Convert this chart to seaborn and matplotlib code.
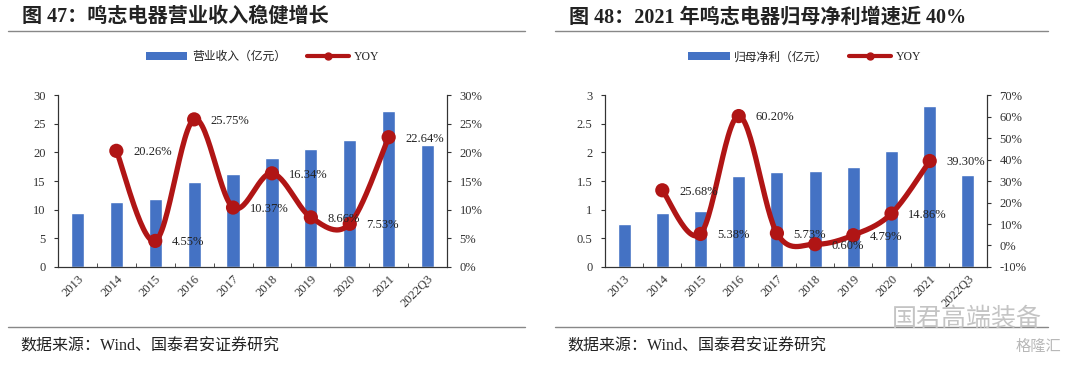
import numpy as np
import pandas as pd
import seaborn as sns
import matplotlib.pyplot as plt
from matplotlib.lines import Line2D
from matplotlib.patches import Patch
from matplotlib.ticker import FuncFormatter, FixedLocator

years = ['2013', '2014', '2015', '2016', '2017', '2018', '2019', '2020', '2021', '2022Q3']

revenue = [9.4, 11.3, 11.8, 14.8, 16.3, 19.0, 20.6, 22.2, 27.2, 21.2]
revenue_yoy = [None, 20.26, 4.55, 25.75, 10.37, 16.34, 8.66, 7.53, 22.64, None]

profit = [0.75, 0.94, 0.98, 1.58, 1.66, 1.67, 1.75, 2.02, 2.80, 1.60]
profit_yoy = [None, 25.68, 5.38, 60.20, 5.73, 0.60, 4.79, 14.86, 39.30, None]

sns.set_style('ticks')
plt.rcParams['font.family'] = ['Liberation Serif', 'Noto Sans CJK SC', 'DejaVu Sans']
plt.rcParams['axes.edgecolor'] = '#333333'
plt.rcParams['text.color'] = '#222222'
plt.rcParams['xtick.color'] = '#333333'
plt.rcParams['ytick.color'] = '#333333'

BLUE = '#4472C4'
RED = '#B01515'


def smooth(xs, ys, n=30):
    # excel-like smoothed line (catmull-rom as bezier)
    pts = np.column_stack([xs, ys]).astype(float)
    p = np.vstack([pts[0], pts, pts[-1]])
    out = []
    t = np.linspace(0, 1, n)[:, None]
    for i in range(1, len(p) - 2):
        p0, p1, p2, p3 = p[i - 1], p[i], p[i + 1], p[i + 2]
        c1 = p1 + (p2 - p0) / 6
        c2 = p2 - (p3 - p1) / 6
        seg = (1 - t) ** 3 * p1 + 3 * (1 - t) ** 2 * t * c1 + 3 * (1 - t) * t ** 2 * c2 + t ** 3 * p2
        out.append(seg)
    out = np.vstack(out)
    return out[:, 0], out[:, 1]


def draw(fig, rect, bars, yoy, ylim, yticks, ylim2, yticks2, title, bar_name, left, right, legend_x):
    ax = fig.add_axes(rect)
    df = pd.DataFrame({'year': years, 'val': bars})
    sns.barplot(data=df, x='year', y='val', color=BLUE, width=0.34, saturation=1, ax=ax)
    ax.set_xlim(-0.5, len(years) - 0.5)
    ax.set_ylim(*ylim)
    ax.set_yticks(yticks)
    ax.yaxis.set_major_formatter(FuncFormatter(lambda v, p: '{:g}'.format(v)))
    ax.set_xlabel('')
    ax.set_ylabel('')
    ax.tick_params(axis='x', length=0, labelsize=9, pad=4)
    ax.xaxis.set_minor_locator(FixedLocator(np.arange(0.5, len(years) - 1, 1)))
    ax.tick_params(axis='x', which='minor', direction='in', length=3, color='#333333')
    ax.tick_params(axis='y', length=3, labelsize=9, pad=6)
    for lab in ax.get_xticklabels():
        lab.set_rotation(45)
        lab.set_ha('right')
        lab.set_rotation_mode('anchor')
    ax.spines['top'].set_visible(False)

    ax2 = ax.twinx()
    idx = [i for i, v in enumerate(yoy) if v is not None]
    vals = [yoy[i] for i in idx]
    sx, sy = smooth(idx, vals)
    ax2.plot(sx, sy, color=RED, lw=3.8, solid_capstyle='round', zorder=3)
    sns.scatterplot(x=idx, y=vals, color=RED, s=105, edgecolor='none', ax=ax2, zorder=4)
    for i, v in zip(idx, vals):
        ax2.annotate('{:.2f}%'.format(v), (i, v), xytext=(12, -1), textcoords='offset points',
                     ha='left', va='center', fontsize=9, color='#222222', zorder=5)
    ax2.set_ylim(*ylim2)
    ax2.set_yticks(yticks2)
    ax2.yaxis.set_major_formatter(FuncFormatter(lambda v, p: '{:.0f}%'.format(v)))
    ax2.tick_params(axis='y', length=3, labelsize=9, pad=6)
    ax2.spines['top'].set_visible(False)
    ax2.set_xlim(-0.5, len(years) - 0.5)

    # title, rules, source
    fig.text(left + 0.013, 0.953, title, fontsize=14.5, fontweight='bold', ha='left', va='center')
    fig.add_artist(Line2D([left, right], [0.915, 0.915], color='#888888', lw=1))
    fig.add_artist(Line2D([left, right], [0.104, 0.104], color='#888888', lw=1))
    fig.text(left + 0.011, 0.052, '数据来源：Wind、国泰君安证券研究', fontsize=11.5, ha='left', va='center')

    handles = [Patch(facecolor=BLUE, edgecolor='none'),
               Line2D([], [], color=RED, lw=3, marker='o', markersize=5)]
    fig.legend(handles, [bar_name, 'YOY'], loc='center', bbox_to_anchor=(legend_x, 0.843),
               ncol=2, frameon=False, fontsize=8.5, handlelength=3.5, handleheight=0.6,
               columnspacing=1.8, handletextpad=0.4)


fig = plt.figure(figsize=(10.8, 3.65), dpi=100)

draw(fig, [0.0537, 0.2685, 0.3602, 0.4712], revenue, revenue_yoy,
     (0, 30), [0, 5, 10, 15, 20, 25, 30], (0, 30), [0, 5, 10, 15, 20, 25, 30],
     '图 47：鸣志电器营业收入稳健增长', '营业收入（亿元）', 0.0074, 0.486, 0.243)

draw(fig, [0.5602, 0.2685, 0.3537, 0.4712], profit, profit_yoy,
     (0, 3), [0, 0.5, 1, 1.5, 2, 2.5, 3], (-10, 70), [-10, 0, 10, 20, 30, 40, 50, 60, 70],
     '图 48：2021 年鸣志电器归母净利增速近 40%', '归母净利（亿元）', 0.514, 0.970, 0.745)

# watermark
fig.text(0.895, 0.128, '国君高端装备', fontsize=18, color='#c4c4c4', ha='center', va='center',
         family=['Noto Sans CJK SC'])
fig.text(0.962, 0.052, '格隆汇', fontsize=11, color='#b8b8b8', ha='center', va='center',
         family=['Noto Sans CJK SC'])

fig.savefig('out.png', dpi=100, facecolor='white')
